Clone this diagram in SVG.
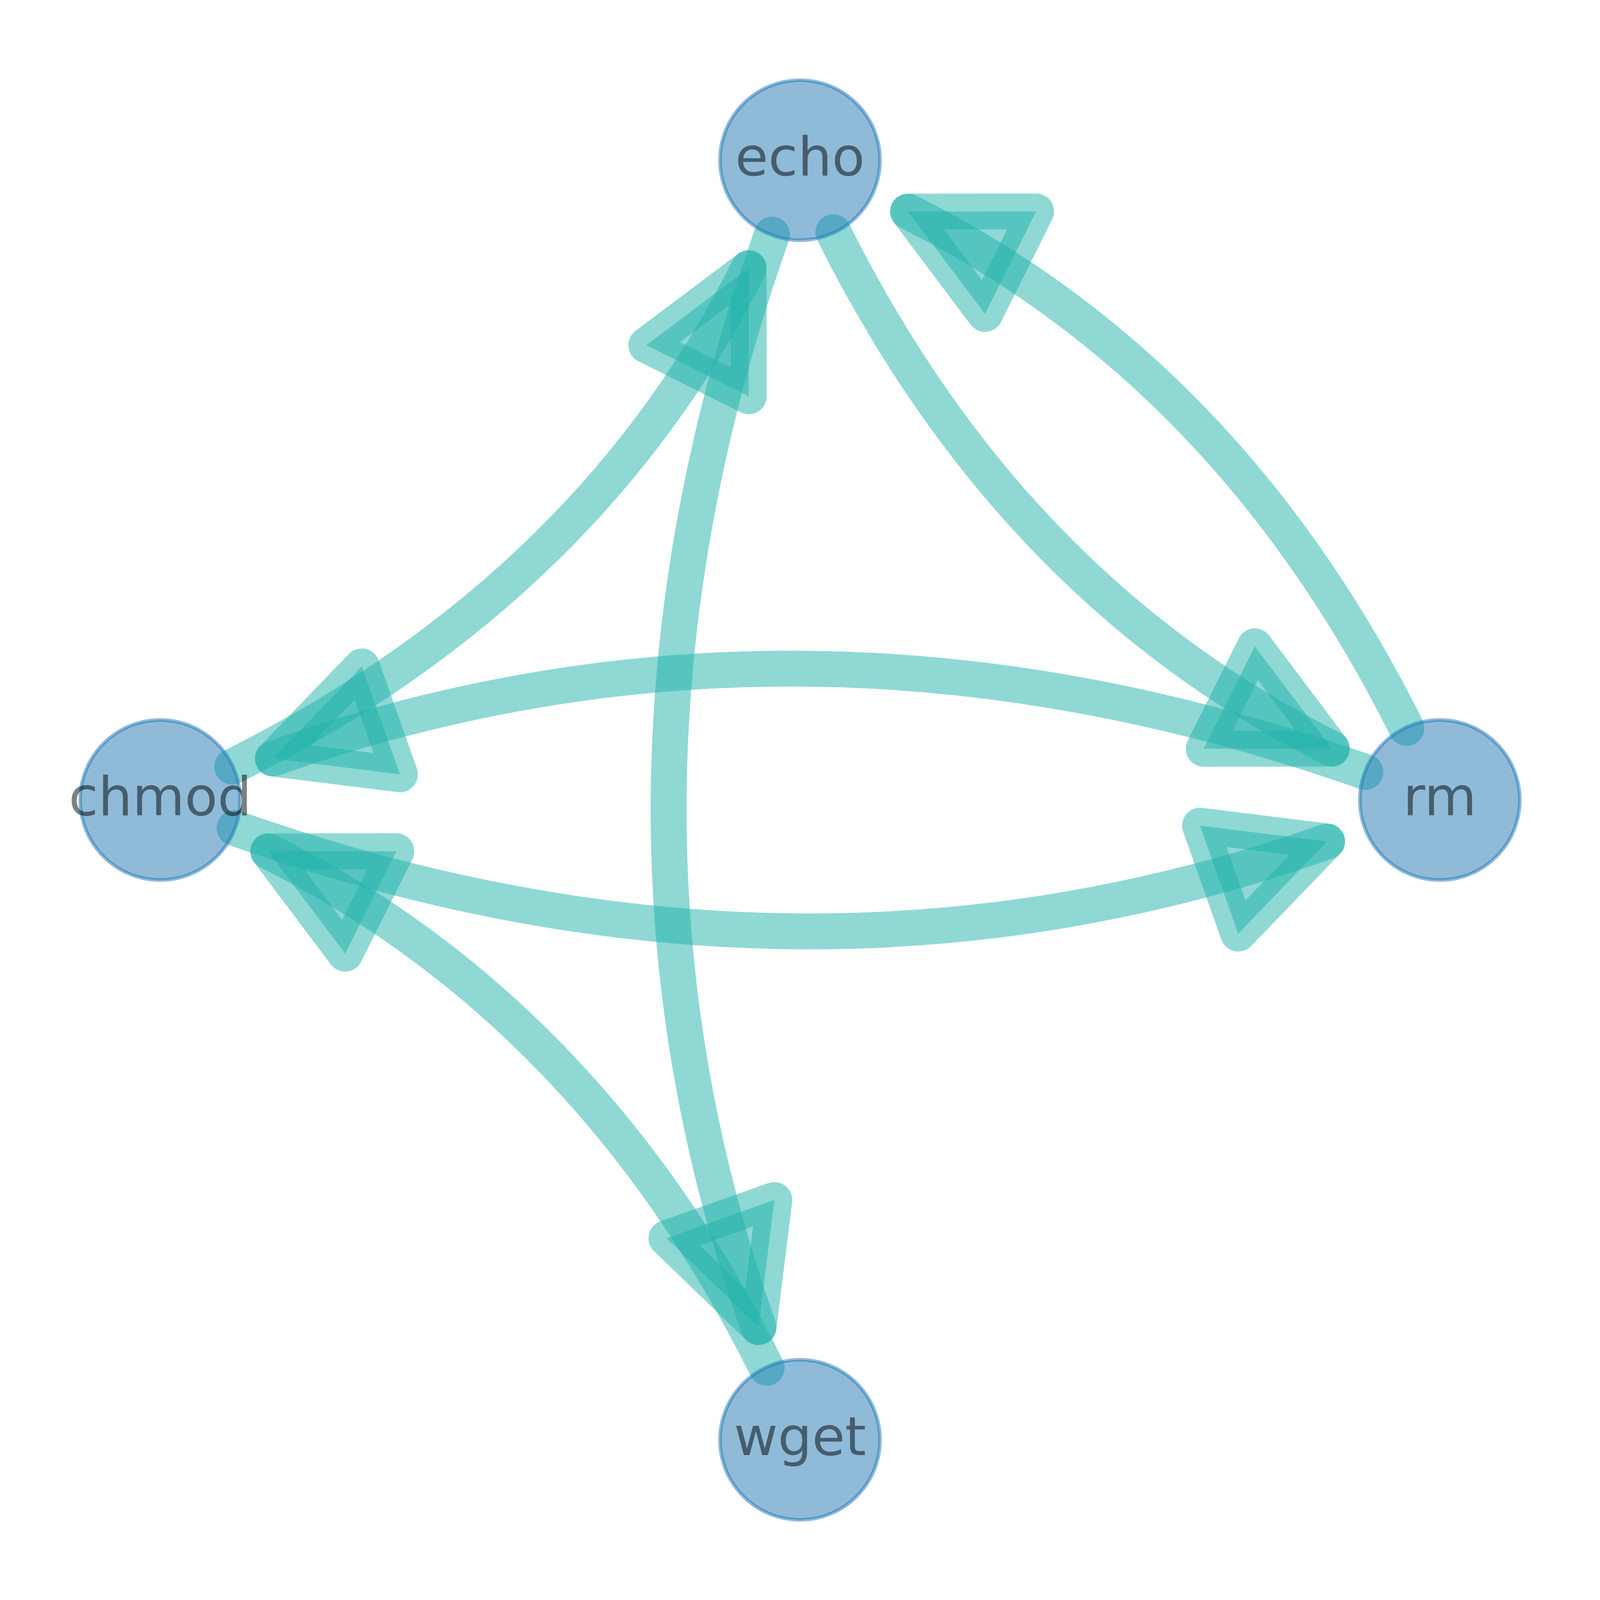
<svg xmlns="http://www.w3.org/2000/svg" width="4959" height="4959" viewBox="0 0 4959 4959">
  <style>
    svg:root { width: 100vw; height: 100vh; display: block; }
    .edge { fill: none; stroke: #20b2aa; stroke-opacity: 0.5; stroke-width: 111; stroke-linecap: round; stroke-linejoin: round; }
    .head { fill: #20b2aa; fill-opacity: 0.5; stroke: #20b2aa; stroke-opacity: 0.5; stroke-width: 111; stroke-linejoin: round; }
    .node circle { fill: #1f77b4; fill-opacity: 0.5; stroke: #1f77b4; stroke-opacity: 0.5; stroke-width: 11; }
    .node text { font-family: "DejaVu Sans", "Liberation Sans", sans-serif; font-size: 166.7px; fill: #000000; fill-opacity: 0.5; text-anchor: middle; }
  </style>
  <rect x="0" y="0" width="4959" height="4959" fill="#ffffff"/>
  <g id="connectors">
    <g id="edge-rm-chmod">
      <path class="edge" d="M 4232.1 2392.7 Q 2480.0 1773.3 845.8 2351.0"/>
      <polygon class="head" points="845.8,2351.0 1121.3,2065.4 1239.7,2400.0"/>
    </g>
    <g id="edge-chmod-rm">
      <path class="edge" d="M 726.9 2566.3 Q 2479.0 3185.7 4113.2 2608.0"/>
      <polygon class="head" points="4113.2,2608.0 3837.7,2893.6 3719.3,2559.0"/>
    </g>
    <g id="edge-echo-wget">
      <path class="edge" d="M 2392.7 726.9 Q 1773.3 2479.0 2351.0 4113.2"/>
      <polygon class="head" points="2351.0,4113.2 2065.4,3837.7 2400.0,3719.3"/>
    </g>
    <g id="edge-chmod-echo">
      <path class="edge" d="M 719.6 2376.2 Q 1824.7 1824.7 2320.4 831.4"/>
      <polygon class="head" points="2320.4,831.4 2320.7,1228.3 2003.0,1069.9"/>
    </g>
    <g id="edge-echo-rm">
      <path class="edge" d="M 2582.8 719.6 Q 3134.3 1824.7 4127.6 2320.4"/>
      <polygon class="head" points="4127.6,2320.4 3730.7,2320.7 3889.1,2003.0"/>
    </g>
    <g id="edge-rm-echo">
      <path class="edge" d="M 4359.2 2256.4 Q 3807.7 1151.3 2814.4 655.6"/>
      <polygon class="head" points="2814.4,655.6 3211.3,655.3 3052.9,973.0"/>
    </g>
    <g id="edge-wget-chmod">
      <path class="edge" d="M 2376.2 4239.4 Q 1824.7 3134.3 831.4 2638.6"/>
      <polygon class="head" points="831.4,2638.6 1228.3,2638.3 1069.9,2956.0"/>
    </g>
  </g>
  <g id="node-echo" class="node">
    <circle cx="2479.5" cy="496.5" r="248"/>
    <text x="2479.5" y="543.5">echo</text>
  </g>
  <g id="node-chmod" class="node">
    <circle cx="496.5" cy="2479.5" r="248"/>
    <text x="496.5" y="2526.5">chmod</text>
  </g>
  <g id="node-rm" class="node">
    <circle cx="4462.5" cy="2479.5" r="248"/>
    <text x="4462.5" y="2526.5">rm</text>
  </g>
  <g id="node-wget" class="node">
    <circle cx="2479.5" cy="4462.5" r="248"/>
    <text x="2479.5" y="4509.5">wget</text>
  </g>
</svg>
